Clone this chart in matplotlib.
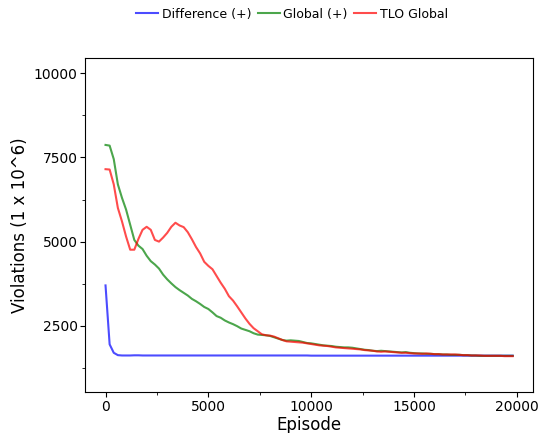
import matplotlib.pyplot as plt
from matplotlib.ticker import MultipleLocator

# episodes, every 200
episodes = list(range(0, 20000, 200))

difference = [3700, 1950, 1700, 1630, 1620, 1620, 1620, 1625, 1625, 1620,
              1620, 1620, 1620, 1620, 1620, 1620, 1620, 1620, 1620, 1620,
              1620, 1620, 1620, 1620, 1620, 1620, 1620, 1620, 1620, 1620,
              1620, 1620, 1620, 1620, 1620, 1620, 1620, 1620, 1620, 1620,
              1620, 1620, 1620, 1620, 1620, 1620, 1620, 1620, 1620, 1620,
              1615, 1615, 1615, 1615, 1615, 1615, 1615, 1615, 1615, 1615,
              1615, 1615, 1615, 1615, 1615, 1615, 1615, 1615, 1615, 1615,
              1615, 1615, 1615, 1615, 1615, 1615, 1615, 1615, 1615, 1615,
              1615, 1615, 1615, 1615, 1615, 1615, 1615, 1615, 1615, 1615,
              1615, 1615, 1615, 1615, 1615, 1615, 1615, 1615, 1615, 1615]

global_plus = [7870, 7850, 7450, 6700, 6300, 5950, 5500, 5050, 4880, 4780,
               4580, 4420, 4320, 4200, 4020, 3880, 3760, 3650, 3560, 3480,
               3400, 3300, 3230, 3150, 3060, 3000, 2900, 2790, 2740, 2660,
               2600, 2550, 2490, 2420, 2380, 2340, 2280, 2240, 2230, 2220,
               2200, 2160, 2120, 2080, 2060, 2070, 2060, 2050, 2020, 1990,
               1980, 1960, 1940, 1920, 1910, 1900, 1880, 1870, 1860, 1860,
               1850, 1830, 1810, 1790, 1780, 1760, 1750, 1760, 1750, 1740,
               1730, 1720, 1710, 1720, 1700, 1690, 1680, 1680, 1670, 1670,
               1660, 1660, 1650, 1650, 1640, 1640, 1640, 1630, 1630, 1620,
               1620, 1610, 1610, 1610, 1610, 1610, 1610, 1610, 1610, 1610]

tlo_global = [7150, 7140, 6700, 6000, 5600, 5150, 4760, 4760, 5080, 5350,
              5440, 5350, 5050, 5000, 5120, 5260, 5440, 5560, 5480, 5430,
              5280, 5070, 4840, 4650, 4400, 4280, 4180, 3980, 3780, 3600,
              3380, 3250, 3080, 2900, 2720, 2560, 2430, 2340, 2250, 2220,
              2210, 2180, 2130, 2080, 2040, 2030, 2020, 2010, 2000, 1980,
              1960, 1940, 1920, 1910, 1900, 1880, 1860, 1850, 1840, 1830,
              1820, 1810, 1800, 1780, 1770, 1760, 1740, 1730, 1740, 1730,
              1720, 1710, 1700, 1700, 1690, 1680, 1680, 1670, 1680, 1670,
              1660, 1660, 1650, 1650, 1650, 1650, 1640, 1630, 1630, 1620,
              1620, 1620, 1610, 1610, 1610, 1610, 1610, 1600, 1600, 1600]

fig = plt.figure(figsize=(5.39, 4.33), dpi=100)
ax = fig.add_axes([0.158, 0.095, 0.831, 0.771])

ax.plot(episodes, difference, color='blue', alpha=0.7, label='Difference (+)')
ax.plot(episodes, global_plus, color='green', alpha=0.7, label='Global (+)')
ax.plot(episodes, tlo_global, color='red', alpha=0.7, label='TLO Global')

ax.set_ylim(540, 10450)
ax.yaxis.set_major_locator(MultipleLocator(2500))
ax.yaxis.set_minor_locator(MultipleLocator(1250))
ax.xaxis.set_major_locator(MultipleLocator(5000))
ax.xaxis.set_minor_locator(MultipleLocator(2500))
ax.tick_params(which='major', pad=2)

ax.set_xlabel('Episode', fontsize=12, labelpad=2)
ax.set_ylabel('Violations (1 x 10^6)', fontsize=12, labelpad=3)

ax.legend(loc='upper center', bbox_to_anchor=(0.462, 1.185), ncol=3,
          frameon=False, fontsize=9, handlelength=1.75, columnspacing=0.5,
          handletextpad=0.3)

fig.savefig('out.png')
